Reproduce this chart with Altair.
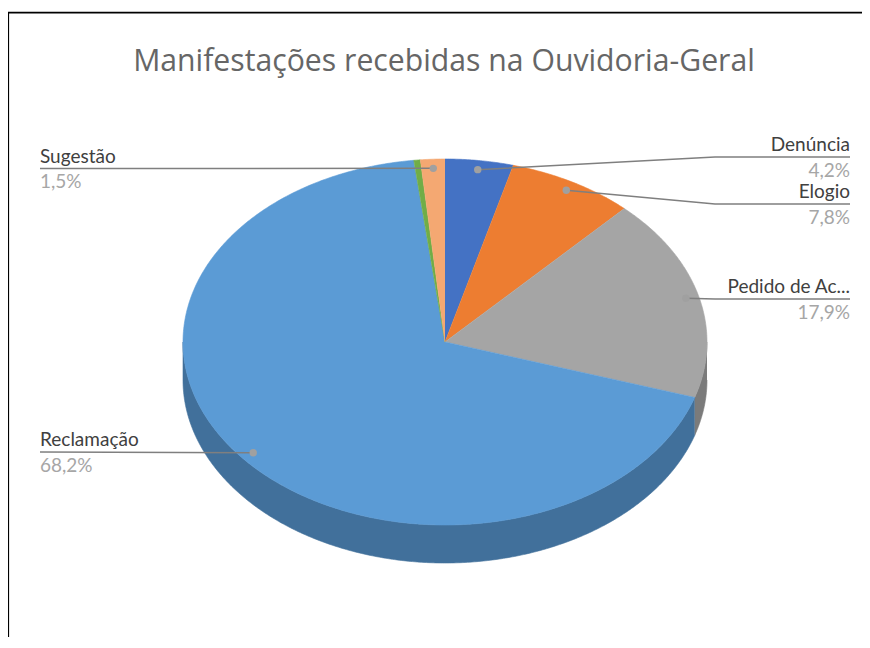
import math
import altair as alt
import pandas as pd

# ---- data ----
categories = ["Denúncia", "Elogio", "Pedido de Ac...", "Reclamação", "Solicitação", "Sugestão"]
percent = [4.2, 7.8, 17.9, 68.2, 0.4, 1.5]
pct_labels = ["4,2%", "7,8%", "17,9%", "68,2%", "", "1,5%"]
show_label = [True, True, True, True, False, True]

# ---- styles / layout ----
top_colors = ["#4472C4", "#ED7D31", "#A5A5A5", "#5B9BD5", "#70AD47", "#F4A872"]
side_colors = ["#2F5597", "#AE5A21", "#7B7B7B", "#41709B", "#507E32", "#C07A48"]
label_side = ["right", "right", "right", "left", "left", "left"]
label_line_y = [157, 204, 299, 452, 0, 168.5]
CX, CY, RX, RY, DEPTH = 445, 342, 262, 183, 38
LEFT_X, RIGHT_X, ELBOW_X = 40, 850, 715
FONT = "Lato"
TITLE_FONT = "Open Sans"
W, H = 854, 629


def ell(t_deg, dy=0.0, k=1.0):
    t = math.radians(t_deg)
    return CX + k * RX * math.sin(t), CY - k * RY * math.cos(t) + dy


total = sum(percent)
starts, ends = [], []
acc = 0.0
for p in percent:
    starts.append(acc / total * 360)
    acc += p
    ends.append(acc / total * 360)


def arc_pts(a, b, dy=0.0):
    n = max(2, int(abs(b - a) / 0.5) + 2)
    return [ell(a + (b - a) * i / (n - 1), dy) for i in range(n)]


rows = []
# side faces (visible lower half, 90..270 degrees)
for i, (a, b) in enumerate(zip(starts, ends)):
    lo, hi = max(a, 90), min(b, 270)
    if hi > lo:
        pts = arc_pts(lo, hi) + arc_pts(hi, lo, DEPTH)
        for j, (x, y) in enumerate(pts):
            rows.append({"shape": f"side{i}", "o": j, "x": x, "y": y, "c": side_colors[i]})
side_df = pd.DataFrame(rows)

rows = []
for i, (a, b) in enumerate(zip(starts, ends)):
    pts = [(CX, CY)] + arc_pts(a, b)
    for j, (x, y) in enumerate(pts):
        rows.append({"shape": f"top{i}", "o": j, "x": x, "y": y, "c": top_colors[i]})
top_df = pd.DataFrame(rows)

# leader lines, dots and labels
lead_rows, dot_rows, txt_rows = [], [], []
for i, name in enumerate(categories):
    if not show_label[i]:
        continue
    mid = (starts[i] + ends[i]) / 2
    dx, dy = ell(mid, 0, 0.95)
    ly = label_line_y[i]
    dot_rows.append({"x": dx, "y": dy})
    if label_side[i] == "right":
        pts = [(dx, dy), (max(ELBOW_X, dx), ly), (RIGHT_X, ly)]
        tx, al = RIGHT_X, "right"
    else:
        pts = [(dx, dy), (LEFT_X, ly)]
        tx, al = LEFT_X, "left"
    for j, (x, y) in enumerate(pts):
        lead_rows.append({"lead": name, "o": j, "x": x, "y": y})
    txt_rows.append({"x": tx, "y": ly - 6, "t": name, "kind": "name", "al": al})
    txt_rows.append({"x": tx, "y": ly + 19.5, "t": pct_labels[i], "kind": "pct", "al": al})
lead_df = pd.DataFrame(lead_rows)
dot_df = pd.DataFrame(dot_rows)
txt_df = pd.DataFrame(txt_rows)

xs = alt.Scale(domain=[8, 8 + W], zero=False, nice=False)
ys = alt.Scale(domain=[8, 8 + H], zero=False, nice=False, reverse=True)
X = alt.X("x:Q", scale=xs, axis=None)
Y = alt.Y("y:Q", scale=ys, axis=None)

sides = alt.Chart(side_df).mark_line(strokeWidth=0.6, interpolate="linear").encode(
    x=X, y=Y, order="o:Q", detail="shape:N",
    fill=alt.Fill("c:N", scale=None), stroke=alt.Stroke("c:N", scale=None),
)
tops = alt.Chart(top_df).mark_line(strokeWidth=0.6, interpolate="linear").encode(
    x=X, y=Y, order="o:Q", detail="shape:N",
    fill=alt.Fill("c:N", scale=None), stroke=alt.Stroke("c:N", scale=None),
)
leads = alt.Chart(lead_df).mark_line(color="#7F7F7F", strokeWidth=1.5).encode(
    x=X, y=Y, order="o:Q", detail="lead:N"
)
dots = alt.Chart(dot_df).mark_circle(color="#A0A0A0", size=55, opacity=1).encode(x=X, y=Y)


def txt(kind, al, color):
    return alt.Chart(txt_df[(txt_df.kind == kind) & (txt_df.al == al)]).mark_text(
        font=FONT, fontSize=19, color=color, align=al, baseline="alphabetic"
    ).encode(x=X, y=Y, text="t:N")


names_r = txt("name", "right", "#404040")
names_l = txt("name", "left", "#404040")
pcts_r = txt("pct", "right", "#A6A6A6")
pcts_l = txt("pct", "left", "#A6A6A6")

one = pd.DataFrame({"a": [0]})
title = alt.Chart(one).mark_text(
    text="Manifestações recebidas na Ouvidoria-Geral",
    font=TITLE_FONT, fontSize=30.2, color="#666666", align="center", baseline="alphabetic",
).encode(x=alt.value(444 - 8), y=alt.value(70.7 - 8))
frame_top = alt.Chart(one).mark_rule(color="#000000", strokeWidth=1.6).encode(
    x=alt.value(0), x2=alt.value(W), y=alt.value(12.6 - 8)
)
frame_left = alt.Chart(one).mark_rule(color="#000000", strokeWidth=1.6).encode(
    x=alt.value(0.3), y=alt.value(12.6 - 8), y2=alt.value(H)
)

chart = alt.layer(
    sides, tops, leads, dots, names_r, names_l, pcts_r, pcts_l, title, frame_top, frame_left
).properties(
    width=W, height=H, padding=0, autosize=alt.AutoSizeParams(type="none"),
    background="white",
).configure_view(stroke=None)

chart.save("out.html", embed_options={"renderer": "svg", "actions": False})
